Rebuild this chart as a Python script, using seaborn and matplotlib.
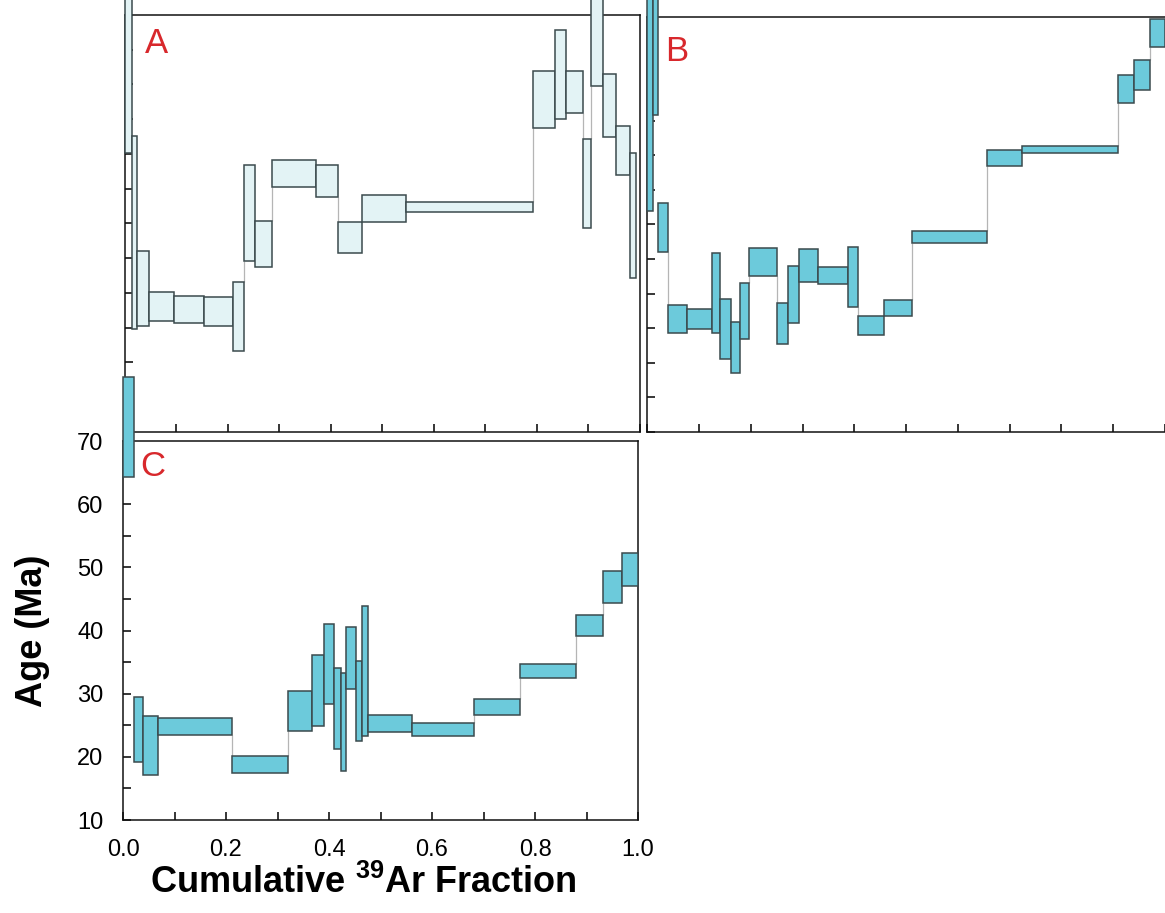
import numpy as np
import matplotlib
matplotlib.use("Agg")
import matplotlib.pyplot as plt
import seaborn as sns
from matplotlib.ticker import MultipleLocator

# ---------------- data (cumulative 39Ar fraction boundaries, age limits in Ma) ----------------
a_cum = [0.0, 0.0151, 0.0242, 0.0469, 0.0955, 0.1548, 0.2105, 0.2325, 0.2538, 0.2868, 0.3711,
         0.4149, 0.4615, 0.5457, 0.7929, 0.8356, 0.8575, 0.8899, 0.9060, 0.9293, 0.9539, 0.9811, 0.9934]
a_low = [50.1, 24.8, 25.2, 26.0, 25.7, 25.2, 21.6, 34.6, 33.7, 45.3, 43.8,
         35.7, 40.2, 41.7, 53.7, 55.0, 55.9, 39.3, 59.8, 52.5, 47.0, 32.1]
a_high = [80.0, 52.6, 36.0, 30.2, 29.5, 29.4, 31.6, 48.4, 40.3, 49.2, 48.4,
          40.2, 44.1, 43.1, 61.9, 67.9, 61.9, 52.1, 80.0, 61.5, 54.1, 50.1]

b_cum = [0.0, 0.0104, 0.0212, 0.0405, 0.0761, 0.1255, 0.1404, 0.1622, 0.1790, 0.1958, 0.2499, 0.2718,
         0.2924, 0.3291, 0.3871, 0.4070, 0.4572, 0.5113, 0.6561, 0.7232, 0.9099, 0.9408, 0.9710, 1.0]
b_low = [41.9, 55.8, 36.0, 24.3, 24.9, 24.3, 20.6, 18.5, 23.5, 32.6, 22.7, 25.8,
         31.7, 31.4, 28.1, 24.0, 26.8, 37.3, 48.4, 50.3, 57.6, 59.5, 65.7]
b_high = [80.0, 80.0, 43.1, 28.4, 27.8, 35.9, 29.2, 25.9, 31.5, 36.6, 28.7, 34.0,
          36.5, 33.9, 36.8, 26.8, 29.1, 39.0, 50.7, 51.4, 61.6, 63.8, 69.7]

c_cum = [0.0, 0.0219, 0.0394, 0.0685, 0.2122, 0.3204, 0.3664, 0.3897, 0.4097, 0.4239, 0.4336,
         0.4518, 0.4647, 0.4763, 0.5606, 0.6816, 0.7709, 0.8796, 0.9314, 0.9683, 1.0]
c_low = [64.3, 19.2, 17.1, 23.5, 17.4, 24.1, 24.9, 28.3, 21.3, 17.8,
         30.7, 22.5, 23.3, 23.9, 23.3, 26.6, 32.5, 39.1, 44.4, 47.0]
c_high = [80.2, 29.5, 26.5, 26.2, 20.2, 30.5, 36.2, 41.1, 34.1, 33.3,
          40.6, 35.2, 43.8, 26.7, 25.3, 29.2, 34.7, 42.5, 49.4, 52.2]

panel_names = ["A", "B", "C"]
x_ticklabels = ["0.0", "0.2", "0.4", "0.6", "0.8", "1.0"]

# ---------------- style ----------------
sns.set_theme(style="ticks")
plt.rcParams["font.family"] = ["Liberation Sans", "DejaVu Sans"]
plt.rcParams["mathtext.fontset"] = "custom"
plt.rcParams["mathtext.rm"] = "Liberation Sans"
plt.rcParams["mathtext.bf"] = "Liberation Sans:bold"
for k in ["text.color", "axes.labelcolor", "xtick.color", "ytick.color", "axes.edgecolor"]:
    plt.rcParams[k] = "black"

LIGHT = "#e3f3f5"
CYAN = "#6ccadb"
EDGE = "#3b4a4d"
RED = "#d8282c"

fig = plt.figure(figsize=(11.65, 9.13), dpi=100)
fig.patch.set_facecolor("white")

ax_a = fig.add_axes([124.5 / 1165, 1 - 432 / 913, 515.3 / 1165, 417 / 913])
ax_b = fig.add_axes([647.3 / 1165, 1 - 432 / 913, 517.7 / 1165, 415 / 913])
ax_c = fig.add_axes([123 / 1165, 1 - 820 / 913, 515 / 1165, 379 / 913])


def draw_spectrum(ax, cum, low, high, face):
    cum = np.asarray(cum)
    lo = np.asarray(low)
    hi = np.asarray(high)
    ax.bar(cum[:-1], hi - lo, width=np.diff(cum), bottom=lo, align="edge",
           color=face, edgecolor=EDGE, linewidth=1.1, clip_on=False, zorder=3)
    # thin connectors between non-overlapping successive steps (after the first steps)
    for i in range(2, len(lo) - 1):
        x = cum[i + 1]
        if lo[i + 1] > hi[i]:
            ax.vlines(x, hi[i], lo[i + 1], color="#b5b5b5", linewidth=0.9, zorder=2)
        elif hi[i + 1] < lo[i]:
            ax.vlines(x, hi[i + 1], lo[i], color="#b5b5b5", linewidth=0.9, zorder=2)


def style_axes(ax, labels):
    ax.set_xlim(0, 1)
    ax.set_ylim(10, 70)
    ax.set_facecolor("none")
    for s in ax.spines.values():
        s.set_linewidth(1.1)
        s.set_color("#111111")
    ax.tick_params(which="both", direction="in", length=6, width=1.1,
                   top=False, right=False)
    if labels:
        ax.xaxis.set_major_locator(MultipleLocator(0.2))
        ax.xaxis.set_minor_locator(MultipleLocator(0.1))
        ax.yaxis.set_major_locator(MultipleLocator(10))
        ax.yaxis.set_minor_locator(MultipleLocator(5))
        ax.tick_params(which="major", labelsize=17, pad=14)
    else:
        ax.xaxis.set_major_locator(MultipleLocator(0.1))
        ax.yaxis.set_major_locator(MultipleLocator(5))
        ax.tick_params(labelbottom=False, labelleft=False)


draw_spectrum(ax_a, a_cum, a_low, a_high, LIGHT)
style_axes(ax_a, False)

draw_spectrum(ax_b, b_cum, b_low, b_high, CYAN)
style_axes(ax_b, False)
ax_b.spines["right"].set_visible(False)

draw_spectrum(ax_c, c_cum, c_low, c_high, CYAN)
style_axes(ax_c, True)
ax_c.set_xticks(np.arange(0, 1.01, 0.2))
ax_c.set_xticklabels(x_ticklabels)

label_pos = [(ax_a, 0.040, 0.972), (ax_b, 0.034, 0.957), (ax_c, 0.033, 0.976)]
for (ax, px, py), name in zip(label_pos, panel_names):
    ax.text(px, py, name, transform=ax.transAxes, ha="left", va="top",
            fontsize=25, color=RED,
            family=["Liberation Sans Narrow", "Liberation Sans", "DejaVu Sans"], zorder=6)

ax_c.set_ylabel("Age (Ma)", fontsize=26, fontweight="bold")
ax_c.yaxis.set_label_coords(-0.142, 0.5)
ax_c.set_xlabel(r"Cumulative $\mathbf{^{39}}$Ar Fraction", fontsize=26, fontweight="bold")
ax_c.xaxis.set_label_coords(0.466, -0.117)

fig.savefig("out.png", dpi=100, facecolor="white")
